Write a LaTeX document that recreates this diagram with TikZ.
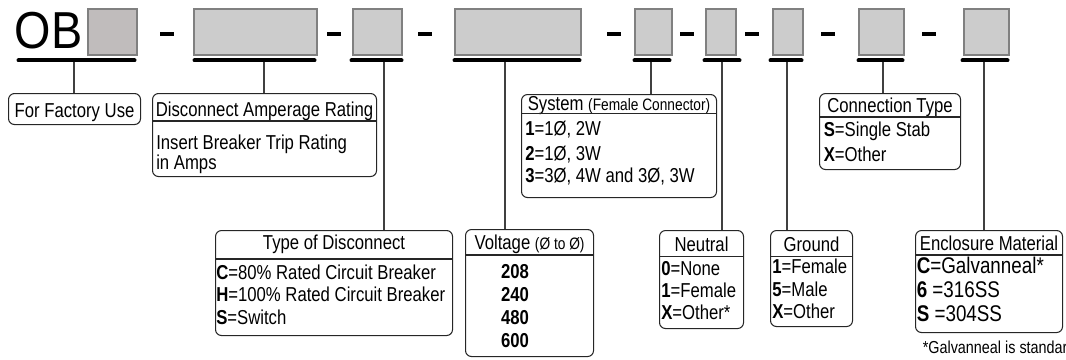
\documentclass[tikz,border=0pt]{standalone}
\usepackage{fontspec}
\setmainfont{Liberation Sans}[FakeStretch=0.83]
\newfontfamily\obfont{Liberation Sans}[FakeStretch=0.9]
\usetikzlibrary{calc,positioning}
\newcommand{\mypx}{0.75pt}
\newcommand{\txtsize}{\fontsize{15.1}{18}\selectfont}
\newcommand{\smallsize}{\fontsize{12.4}{15}\selectfont}
\newcommand{\bigsize}{\fontsize{17}{20}\selectfont}
\newcommand{\notesize}{\fontsize{13}{16}\selectfont}
\colorlet{codegray}{gray!40}
\colorlet{rimgray}{gray}
\definecolor{factorygray}{RGB}{192,188,188}
\tikzset{
    codesty/.style={draw=rimgray,line width=1.5pt,fill=codegray,rectangle,inner sep=0pt,anchor=north west,minimum height=46*\mypx},
    barsty/.style={line width=3pt,line cap=round},
    dashsty/.style={line width=3pt},
    linksty/.style={draw=black!75,line width=0.9pt},
    descsty/.style={draw=black!85,line width=0.8pt,rounded corners=4.5pt,rectangle,inner sep=0pt,anchor=north west},
    headsty/.style={inner sep=0pt,anchor=base,font=\txtsize},
    itemsty/.style={inner sep=0pt,anchor=base west,font=\txtsize},
    splitsty/.style={draw=black!85,line width=0.8pt},
}

\begin{document}
\begin{tikzpicture}[x=\mypx,y=-\mypx]
  \useasboundingbox (0,0) rectangle (1066,360);
  \clip (0,0) rectangle (1066,360);

  % part number
  \node[inner sep=0pt,anchor=base west,font=\obfont\fontsize{39}{39}\selectfont] (OB) at (14.5,48.5) {OB};
  \node[codesty,fill=factorygray,minimum width=49*\mypx] (code1) at (87,8) {};
  \foreach \n/\xa/\xb in {2/193/316,3/352/401,4/454/580,5/634/671,6/705/735,7/772/802,8/858/903,9/963/1008}
    \node[codesty,minimum width={(\xb-\xa)*\mypx}] (code\n) at (\xa,8) {};
  \foreach \xa in {160,327,418,607,680,745,821,922}
    \draw[dashsty] (\xa,34) -- (\xa+13.5,34);
  \foreach \n/\xa/\xb/\xc in {1/17/136/74,2/193/316/264,3/350/403/384,4/453/581/505,5/633/671/651,6/703/741/722,7/769/803/787,8/857/904/883,9/961/1009/984}{
    \draw[barsty] (\xa+1.5,60.5) -- (\xb-1.5,60.5);
    \coordinate (root\n) at (\xc,62);
  }

  % upper row of keys
  \node[descsty,minimum width=132*\mypx,minimum height=31*\mypx] (factory) at (8,93) {};
  \node[headsty] (factory-h) at (factory.north |- 0,117) {For Factory Use};

  \node[descsty,minimum width=224*\mypx,minimum height=83*\mypx] (amp) at (152,93) {};
  \node[headsty] (amp-h) at (amp.north |- 0,116) {Disconnect Amperage Rating};
  \draw[splitsty] (amp.west |- 0,121) -- (amp.east |- 0,121);
  \node[itemsty] (amp-1) at (156,149.5) {Insert Breaker Trip Rating};
  \node[itemsty] (amp-2) at (156,169.5) {in Amps};

  \node[descsty,minimum width=195*\mypx,minimum height=103*\mypx] (sys) at (521,94) {};
  \node[headsty] (sys-h) at (sys.north |- 0,110) {System {\smallsize(Female Connector)}};
  \draw[splitsty] (sys.west |- 0,113.5) -- (sys.east |- 0,113.5);
  \foreach \yb/\txt [count=\i] in {135/{\textbf{1}=1Ø, 2W},160/{\textbf{2}=1Ø, 3W},182.5/{\textbf{3}=3Ø, 4W and 3Ø, 3W}}
    \node[itemsty] (sys-\i) at (525,\yb) {\txt};

  \node[descsty,minimum width=141*\mypx,minimum height=76*\mypx] (conn) at (819,93) {};
  \node[headsty] (conn-h) at (conn.north |- 0,112) {Connection Type};
  \draw[splitsty] (conn.west |- 0,117) -- (conn.east |- 0,117);
  \node[itemsty] (conn-1) at (823.5,136.5) {\textbf{S}=Single Stab};
  \node[itemsty] (conn-2) at (823.5,161.5) {\textbf{X}=Other};

  % lower row of keys
  \node[descsty,minimum width=237*\mypx,minimum height=105*\mypx] (disc) at (215,230) {};
  \node[headsty] (disc-h) at (disc.north |- 0,249) {Type of Disconnect};
  \draw[splitsty] (disc.west |- 0,259) -- (disc.east |- 0,259);
  \foreach \yb/\txt [count=\i] in {279/{\textbf{C}=80\% Rated Circuit Breaker},301.5/{\textbf{H}=100\% Rated Circuit Breaker},324/{\textbf{S}=Switch}}
    \node[itemsty] (disc-\i) at (216,\yb) {\txt};

  \node[descsty,minimum width=128*\mypx,minimum height=127*\mypx] (volt) at (465,229) {};
  \node[headsty] (volt-h) at (volt.north |- 0,249) {Voltage {\smallsize(Ø to Ø)}};
  \draw[splitsty] (volt.west |- 0,255) -- (volt.east |- 0,255);
  \foreach \yb/\txt [count=\i] in {278/208,301/240,324/480,347/600}
    \node[headsty,font=\txtsize\bfseries] (volt-\i) at (515,\yb) {\txt};

  \node[descsty,minimum width=84*\mypx,minimum height=98*\mypx] (neut) at (659,230) {};
  \node[headsty] (neut-h) at (neut.north |- 0,251) {Neutral};
  \draw[splitsty] (neut.west |- 0,256.5) -- (neut.east |- 0,256.5);
  \foreach \yb/\txt [count=\i] in {275/{\textbf{0}=None},297/{\textbf{1}=Female},319/{\textbf{X}=Other*}}
    \node[itemsty] (neut-\i) at (661,\yb) {\txt};

  \node[descsty,minimum width=82*\mypx,minimum height=96*\mypx] (gnd) at (770,230) {};
  \node[headsty] (gnd-h) at (gnd.north |- 0,251) {Ground};
  \draw[splitsty] (gnd.west |- 0,256.5) -- (gnd.east |- 0,256.5);
  \foreach \yb/\txt [count=\i] in {273.5/{\textbf{1}=Female},296/{\textbf{5}=Male},318/{\textbf{X}=Other}}
    \node[itemsty] (gnd-\i) at (772,\yb) {\txt};

  \node[descsty,minimum width=147*\mypx,minimum height=102*\mypx] (encl) at (915,230) {};
  \node[headsty] (encl-h) at (encl.north |- 0,250) {Enclosure Material};
  \draw[splitsty] (encl.west |- 0,255) -- (encl.east |- 0,255);
  \foreach \yb/\txt [count=\i] in {273/{\textbf{C}=Galvanneal*},297/{\textbf{6} =316SS},321/{\textbf{S} =304SS}}
    \node[itemsty,font=\bigsize] (encl-\i) at (916.5,\yb) {\txt};
  \node[itemsty,font=\notesize] (note) at (922.5,353) {*Galvanneal is standard};

  % links from the code to its key
  \foreach \n/\b in {1/factory,2/amp,3/disc,4/volt,5/sys,6/neut,7/gnd,8/conn,9/encl}
    \draw[linksty] (root\n) -- (root\n |- \b.north);
\end{tikzpicture}
\end{document}
